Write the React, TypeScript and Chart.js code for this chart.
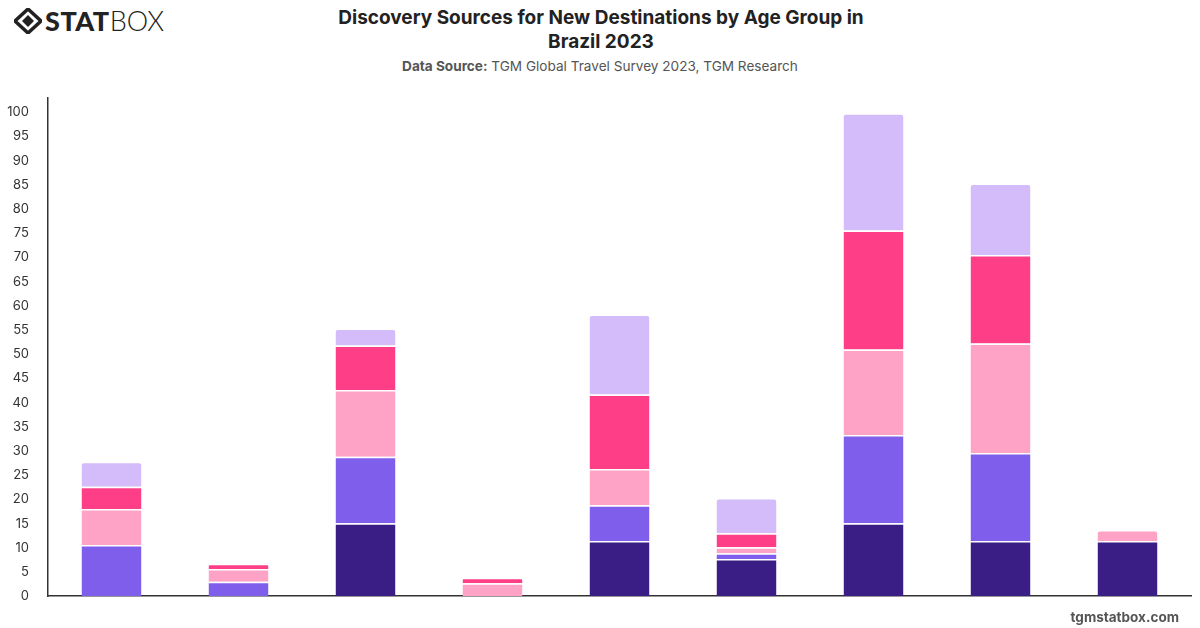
import React, { useEffect, useRef } from "react";
import { Chart, registerables } from "chart.js";

Chart.register(...registerables);

const categories = [
  "Travel Agencies",
  "Magazines",
  "Friends & Family",
  "Newspapers",
  "Travel Websites",
  "TV",
  "Social Media",
  "Search Engines",
  "Other",
];
const seriesLabels = ["18-24", "25-34", "35-44", "45-54", "55+"];
const seriesColors = ["#3a1d85", "#7f5eec", "#fea3c5", "#fe3f87", "#d4bbfa"];
const s1824 = [0, 0, 15.1, 0, 11.4, 7.7, 15.1, 11.4, 11.4];
const s2534 = [10.6, 3.0, 13.7, 0, 7.4, 1.2, 18.2, 18.2, 0];
const s3544 = [7.4, 2.6, 13.8, 2.7, 7.5, 1.2, 17.7, 22.6, 2.3];
const s4554 = [4.6, 1.1, 9.2, 1.1, 15.4, 2.9, 24.6, 18.3, 0];
const s55 = [5.2, 0, 3.5, 0, 16.5, 7.3, 24.2, 14.8, 0];
const seriesValues = [s1824, s2534, s3544, s4554, s55];
const yMax = 103;
const yStep = 5;

function Logo() {
  return (
    <div style={{ position: "absolute", left: 14, top: 8, display: "flex", alignItems: "center" }}>
      <svg width="28" height="26" viewBox="0 0 28 26">
        <polygon points="14,1 27,13 14,25 1,13" fill="none" stroke="#222" strokeWidth="3.5" />
        <polygon points="14,7 20,13 14,19 8,13" fill="#222" />
      </svg>
      <span
        style={{
          fontFamily: "Lato, 'DejaVu Sans', sans-serif",
          fontWeight: 900,
          fontSize: 27,
          color: "#222",
          marginLeft: 3,
          letterSpacing: 0.5,
          lineHeight: "26px",
        }}
      >
        STAT
      </span>
      <span
        style={{
          fontFamily: "Lato, 'DejaVu Sans', sans-serif",
          fontWeight: 300,
          fontSize: 27,
          color: "#222",
          lineHeight: "26px",
        }}
      >
        BOX
      </span>
    </div>
  );
}

export default function App() {
  const ref = useRef<HTMLCanvasElement | null>(null);

  useEffect(() => {
    if (!ref.current) return;
    const chart = new Chart(ref.current, {
      type: "bar",
      data: {
        labels: categories,
        datasets: seriesLabels.map((label, i) => ({
          label,
          data: seriesValues[i],
          backgroundColor: seriesColors[i],
          borderColor: "#ffffff",
          borderWidth: { top: 1.5, left: 0, right: 0, bottom: 0 },
          borderSkipped: "start",
          borderRadius: 4,
          barPercentage: 0.59,
          categoryPercentage: 0.8,
        })),
      },
      options: {
        animation: false,
        responsive: false,
        maintainAspectRatio: false,
        layout: { padding: { top: 3, right: 9, left: 0, bottom: 0 } },
        plugins: {
          legend: { display: false },
          title: { display: false },
          tooltip: { enabled: false },
        },
        scales: {
          x: {
            stacked: true,
            grid: { display: false },
            border: { display: true, color: "#333", width: 1.5 },
            ticks: { display: false },
            afterFit: (s: any) => {
              s.height = 5;
            },
          },
          y: {
            stacked: true,
            min: 0,
            max: yMax,
            grid: { display: false },
            border: { display: true, color: "#333", width: 1.5 },
            ticks: {
              stepSize: yStep,
              padding: 11,
              color: "#333",
              font: { family: "Inter, 'Noto Sans', sans-serif", size: 13 },
              callback: (v: any) => (Number(v) > 100 ? "" : String(v)),
            },
            afterFit: (s: any) => {
              s.width = 48;
            },
          },
        },
      },
    });
    return () => chart.destroy();
  }, []);

  return (
    <div
      style={{
        position: "fixed",
        left: 0,
        top: 0,
        width: 1200,
        height: 628,
        background: "#fff",
        overflow: "hidden",
        fontFamily: "Inter, 'Noto Sans', sans-serif",
      }}
    >
      <Logo />
      <div
        style={{
          position: "absolute",
          left: 300,
          top: 6,
          width: 602,
          textAlign: "center",
          fontWeight: 700,
          fontSize: 19,
          lineHeight: "24px",
          color: "#222",
        }}
      >
        Discovery Sources for New Destinations by Age Group in
        <br />
        Brazil 2023
      </div>
      <div
        style={{
          position: "absolute",
          left: 300,
          top: 58,
          width: 600,
          textAlign: "center",
          fontSize: 13.6,
          color: "#555",
        }}
      >
        <b>Data Source:</b> TGM Global Travel Survey 2023, TGM Research
      </div>
      <canvas
        ref={ref}
        width={1200}
        height={536}
        style={{ position: "absolute", left: 0, top: 79, width: 1200, height: 536 }}
      />
      <div
        style={{
          position: "absolute",
          right: 21,
          top: 609,
          fontSize: 13.5,
          fontWeight: 700,
          color: "#555",
        }}
      >
        tgmstatbox.com
      </div>
    </div>
  );
}
